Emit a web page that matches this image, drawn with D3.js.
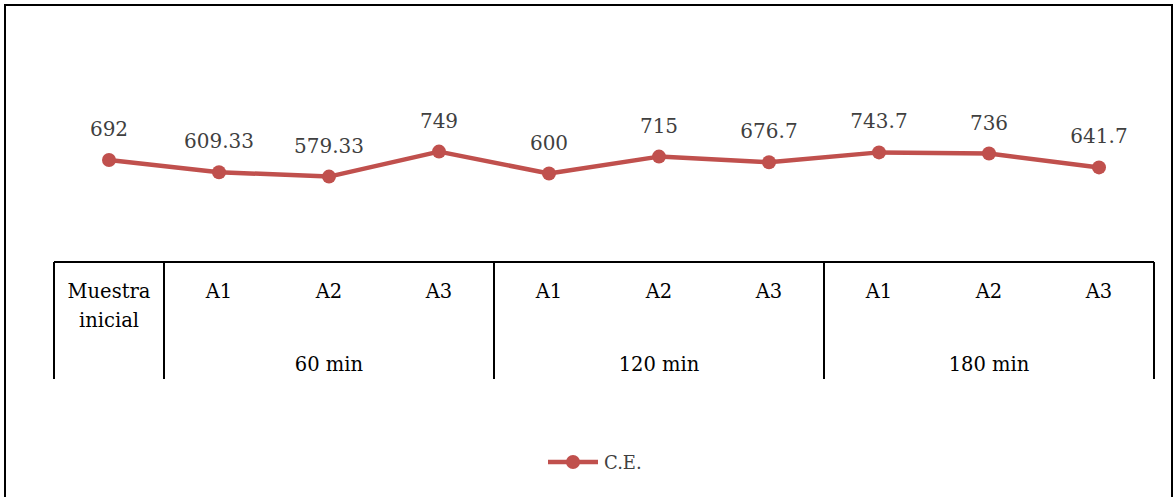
<!DOCTYPE html>
<html>
<head>
<meta charset="utf-8">
<script src="https://cdn.jsdelivr.net/npm/d3@7"></script>
<style>
html,body{margin:0;padding:0;background:#fff;}
svg{display:block;}
</style>
</head>
<body>
<svg id="chart" width="1174" height="497"></svg>
<script>
const subCategories = ["Muestra\ninicial","A1","A2","A3","A1","A2","A3","A1","A2","A3"];
const groupLabels = ["60 min","120 min","180 min"];
const groupSpans = [[1,3],[4,6],[7,9]];
const values = [692, 609.33, 579.33, 749, 600, 715, 676.7, 743.7, 736, 641.7];
const labels = ["692","609.33","579.33","749","600","715","676.7","743.7","736","641.7"];
const seriesName = "C.E.";

const svg = d3.select("#chart");
const W = 1174, H = 497;
const color = "#C0504D";
const font = "'DejaVu Serif', serif";

// outer frame
svg.append("rect").attr("x",5).attr("y",5).attr("width",1167).attr("height",500)
  .attr("fill","none").attr("stroke","#000").attr("stroke-width",2);

const x = d3.scaleBand().domain(d3.range(values.length)).range([54,1154]).paddingInner(0).paddingOuter(0);
const y = d3.scaleLinear().domain([0,1000]).range([262,114.6]);

const axisY = 262, axisBottom = 379;
const g = svg.append("g");

// horizontal axis line
g.append("line").attr("x1",x.range()[0]).attr("x2",x.range()[1])
  .attr("y1",axisY).attr("y2",axisY).attr("stroke","#000").attr("stroke-width",2);

// vertical separators
const seps = [0,1,4,7,10];
g.selectAll("line.sep").data(seps).enter().append("line").attr("class","sep")
  .attr("x1",d=> d<10 ? x(d) : x.range()[1]).attr("x2",d=> d<10 ? x(d) : x.range()[1])
  .attr("y1",axisY).attr("y2",axisBottom).attr("stroke","#000").attr("stroke-width",2);

// sub-category labels
subCategories.forEach((c,i)=>{
  const lines = c.split("\n");
  const t = g.append("text").attr("x",x(i)+x.bandwidth()/2).attr("y",298)
    .attr("text-anchor","middle").attr("font-family",font).attr("font-size",19.5).attr("fill","#000");
  lines.forEach((l,j)=>{
    t.append("tspan").attr("x",x(i)+x.bandwidth()/2).attr("dy", j===0?0:29).text(l);
  });
});

// group labels
groupLabels.forEach((gl,i)=>{
  const [a,b] = groupSpans[i];
  const cx = (x(a) + x(b)+x.bandwidth())/2;
  g.append("text").attr("x",cx).attr("y",371).attr("text-anchor","middle")
    .attr("font-family",font).attr("font-size",19.5).attr("fill","#000").text(gl);
});

// line
const line = d3.line().x((d,i)=>x(i)+x.bandwidth()/2).y(d=>y(d));
g.append("path").datum(values).attr("d",line).attr("fill","none")
  .attr("stroke",color).attr("stroke-width",4.5).attr("stroke-linejoin","round");

g.selectAll("circle.pt").data(values).enter().append("circle").attr("class","pt")
  .attr("cx",(d,i)=>x(i)+x.bandwidth()/2).attr("cy",d=>y(d)).attr("r",7).attr("fill",color);

// data labels
g.selectAll("text.lbl").data(values).enter().append("text").attr("class","lbl")
  .attr("x",(d,i)=>x(i)+x.bandwidth()/2).attr("y",d=>y(d)-24)
  .attr("text-anchor","middle").attr("font-family",font).attr("font-size",20).attr("fill","#404040")
  .text((d,i)=>labels[i]);

// legend
const lg = svg.append("g");
lg.append("line").attr("x1",548).attr("x2",598).attr("y1",462).attr("y2",462)
  .attr("stroke",color).attr("stroke-width",4.5);
lg.append("circle").attr("cx",573).attr("cy",462).attr("r",7).attr("fill",color);
lg.append("text").attr("x",604).attr("y",469).attr("font-family",font).attr("font-size",18)
  .attr("fill","#404040").text(seriesName);
</script>
</body>
</html>
